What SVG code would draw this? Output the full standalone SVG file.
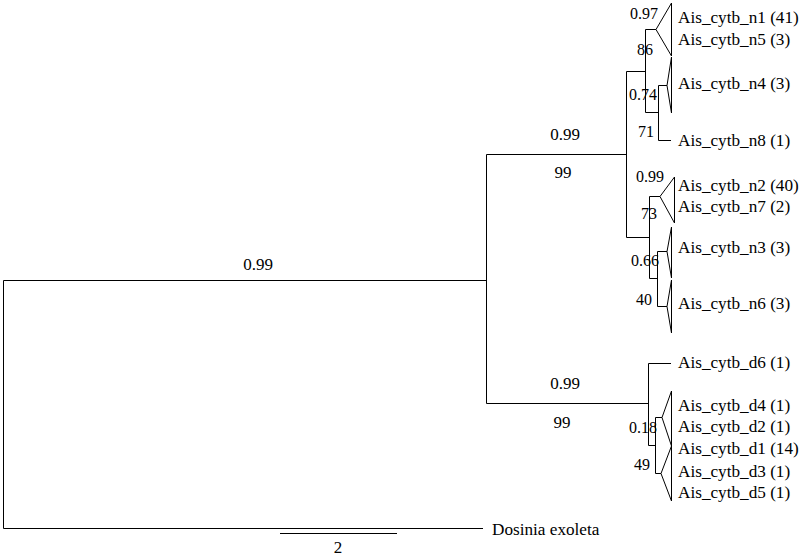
<svg xmlns="http://www.w3.org/2000/svg" width="799" height="557" viewBox="0 0 799 557">
<style>
.br{fill:none;stroke:#000;stroke-width:1}
.tri{fill:none;stroke:#000;stroke-width:1}
text{font-family:"Liberation Serif","Times New Roman",serif;font-size:17px;fill:#000}
.lf{font-size:17.2px}
.sm{font-size:16px}
.e{text-anchor:end}
.m{text-anchor:middle}
</style>
<rect width="799" height="557" fill="#fff"/>
<g id="connectors">
<path class="br" d="M3.5,280.5V528.5H483 M3.5,280.5H486.5 M486.5,154.5V403.5 M486.5,154.5H626.5 M486.5,403.5H648.5"/>
<path class="br" d="M626.5,71.5V237.5 M626.5,71.5H645.5 M626.5,237.5H649.5"/>
<path class="br" d="M645.5,29.5V112.5 M645.5,29.5H656 M645.5,112.5H658.5"/>
<path class="br" d="M658.5,85.5V140.5 M658.5,85.5H667 M658.5,140.5H671"/>
<path class="br" d="M649.5,196.5V278.5 M649.5,196.5H660 M649.5,278.5H657.5"/>
<path class="br" d="M657.5,251.5V306.5 M657.5,251.5H667 M657.5,306.5H667"/>
<path class="br" d="M648.5,363.5V445.5 M648.5,363.5H671 M648.5,445.5H655.5"/>
<path class="br" d="M655.5,417.5V473.5 M655.5,417.5H662 M655.5,473.5H661"/>
<path class="br" d="M280,533.5H397"/>
</g>
<g id="tri_n1_n5"><path class="tri" d="M656,29.5L671.5,3V56Z"/></g>
<g id="tri_n4"><path class="tri" d="M667,85.5L671.5,57V113Z"/></g>
<g id="tri_n2_n7"><path class="tri" d="M660,196.5L674.5,177V223Z"/></g>
<g id="tri_n3"><path class="tri" d="M667,251.5L671.5,227V278Z"/></g>
<g id="tri_n6"><path class="tri" d="M667,306.5L671.5,280V333Z"/></g>
<g id="tri_d4_d2"><path class="tri" d="M662,417.5L671.5,391V446Z"/></g>
<g id="tri_d1_d3_d5"><path class="tri" d="M661,473.5L671.5,446V501Z"/></g>
<g id="labels">
<text class="lf" x="678" y="23">Ais_cytb_n1 (41)</text>
<text class="lf" x="678" y="45">Ais_cytb_n5 (3)</text>
<text class="lf" x="678" y="89">Ais_cytb_n4 (3)</text>
<text class="lf" x="678" y="146">Ais_cytb_n8 (1)</text>
<text class="lf" x="678" y="191">Ais_cytb_n2 (40)</text>
<text class="lf" x="678" y="212">Ais_cytb_n7 (2)</text>
<text class="lf" x="678" y="253">Ais_cytb_n3 (3)</text>
<text class="lf" x="678" y="309">Ais_cytb_n6 (3)</text>
<text class="lf" x="678" y="368">Ais_cytb_d6 (1)</text>
<text class="lf" x="678" y="411">Ais_cytb_d4 (1)</text>
<text class="lf" x="678" y="432">Ais_cytb_d2 (1)</text>
<text class="lf" x="678" y="454">Ais_cytb_d1 (14)</text>
<text class="lf" x="678" y="477">Ais_cytb_d3 (1)</text>
<text class="lf" x="678" y="498">Ais_cytb_d5 (1)</text>
<text class="lf" x="492" y="535">Dosinia exoleta</text>
<text class="m" x="338" y="553">2</text>
</g>
<g id="support">
<text class="m" x="258" y="270">0.99</text>
<text class="m" x="565" y="140">0.99</text>
<text class="m" x="563" y="178">99</text>
<text class="m" x="565" y="389">0.99</text>
<text class="m" x="562" y="428">99</text>
<text class="sm e" x="658" y="19">0.97</text>
<text class="sm m" x="645" y="55">86</text>
<text class="sm e" x="657" y="100">0.74</text>
<text class="sm m" x="646" y="137">71</text>
<text class="sm e" x="664" y="182">0.99</text>
<text class="sm m" x="649" y="219">73</text>
<text class="sm e" x="659" y="266">0.66</text>
<text class="sm m" x="644" y="305">40</text>
<text class="sm e" x="657" y="433">0.18</text>
<text class="sm m" x="642" y="470">49</text>
</g>
</svg>
